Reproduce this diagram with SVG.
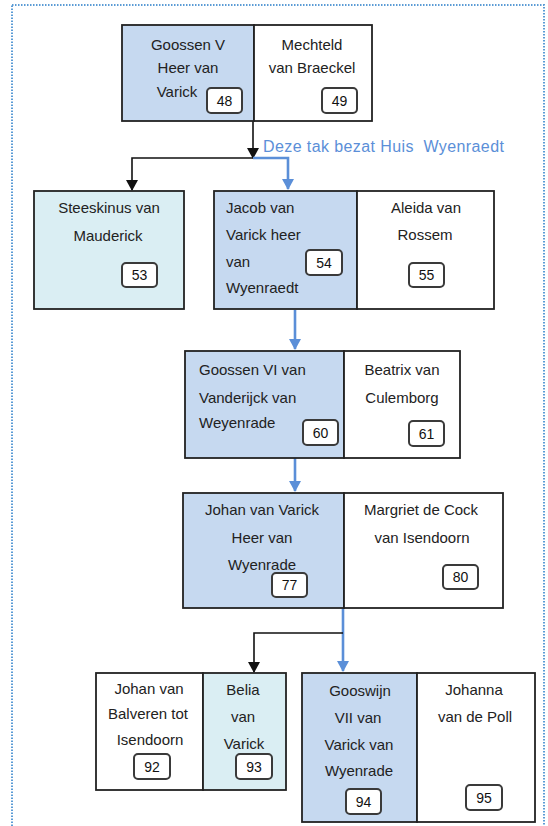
<svg xmlns="http://www.w3.org/2000/svg" width="548" height="826" viewBox="0 0 548 826">
<style>
.bx{stroke:#222;stroke-width:1.8}
.blue{fill:#C6D9F0}
.aqua{fill:#DAEEF3}
.white{fill:#fff}
.bd rect{fill:#fff;stroke:#3a3a3a;stroke-width:2}
.t{font-family:"Liberation Sans",Arial,sans-serif;font-size:15px;fill:#222}
.c{text-anchor:middle}
.n{font-family:"Liberation Sans",Arial,sans-serif;font-size:14px;fill:#111;text-anchor:middle}
.k{fill:none;stroke:#111;stroke-width:1.6}
.b{fill:none;stroke:#5B8FD8;stroke-width:2.6}
</style>
<defs>
<marker id="ab" markerWidth="12" markerHeight="12" refX="6" refY="10" orient="0" markerUnits="userSpaceOnUse" viewBox="0 0 12 12">
<path d="M0,0 L12,0 L6,11 Z" fill="#5B8FD8"/>
</marker>
<marker id="akd" markerWidth="12" markerHeight="12" refX="6" refY="10" orient="0" markerUnits="userSpaceOnUse" viewBox="0 0 12 12">
<path d="M0,0 L12,0 L6,11 Z" fill="#111"/>
</marker>
</defs>
<rect width="548" height="826" fill="#fff"/>
<rect x="12" y="5" width="532" height="840" fill="none" stroke="#5B9BD5" stroke-width="2" stroke-dasharray="1.5 1.5"/>

<g id="connectors">
<path class="k" d="M253,121 V158" marker-end="url(#akd)"/>
<path class="k" d="M253,158 H132 V190" marker-end="url(#akd)"/>
<path class="b" d="M253,158 H288 V189" marker-end="url(#ab)"/>
<text x="263" y="152" style="font-family:'Liberation Sans',Arial,sans-serif;font-size:16px;letter-spacing:0.4px;fill:#5B8FD8;white-space:pre">Deze tak bezat Huis  Wyenraedt</text>
<path class="b" d="M295,310 V349" marker-end="url(#ab)"/>
<path class="b" d="M295,458 V491" marker-end="url(#ab)"/>
<path class="b" d="M343,608 V671" marker-end="url(#ab)"/>
<path class="k" d="M343,633 H254 V672" marker-end="url(#akd)"/>
</g>

<g id="n48">
<rect class="bx blue" x="122" y="25" width="132" height="96"/>
<text class="t c" x="188" y="50">Goossen V</text>
<text class="t c" x="188" y="73">Heer van</text>
<text class="t c" x="177" y="97">Varick</text>
<g class="bd"><rect x="207" y="88" width="35" height="25" rx="4"/></g>
<text class="n" x="224.5" y="106">48</text>
</g>
<g id="n49">
<rect class="bx white" x="254" y="25" width="118" height="96"/>
<text class="t c" x="312" y="50">Mechteld</text>
<text class="t c" x="312" y="73">van Braeckel</text>
<g class="bd"><rect x="322" y="88" width="35" height="25" rx="4"/></g>
<text class="n" x="339.5" y="106">49</text>
</g>

<g id="n53">
<rect class="bx aqua" x="34" y="191" width="150" height="118"/>
<text class="t c" x="109" y="213">Steeskinus van</text>
<text class="t c" x="108" y="241">Mauderick</text>
<g class="bd"><rect x="122" y="263" width="35" height="24" rx="4"/></g>
<text class="n" x="139.5" y="280">53</text>
</g>

<g id="n54">
<rect class="bx blue" x="214" y="191" width="143" height="118"/>
<text class="t" x="226" y="213">Jacob van</text>
<text class="t" x="226" y="240">Varick heer</text>
<text class="t" x="226" y="267">van</text>
<text class="t" x="226" y="293">Wyenraedt</text>
<g class="bd"><rect x="306" y="250" width="36" height="25" rx="4"/></g>
<text class="n" x="324" y="268">54</text>
</g>
<g id="n55">
<rect class="bx white" x="357" y="191" width="137" height="118"/>
<text class="t c" x="426" y="213">Aleida van</text>
<text class="t c" x="425" y="240">Rossem</text>
<g class="bd"><rect x="409" y="263" width="35" height="24" rx="4"/></g>
<text class="n" x="426.5" y="280">55</text>
</g>

<g id="n60">
<rect class="bx blue" x="185" y="351" width="159" height="107"/>
<text class="t" x="199" y="375">Goossen VI van</text>
<text class="t" x="199" y="403">Vanderijck van</text>
<text class="t" x="199" y="428">Weyenrade</text>
<g class="bd"><rect x="303" y="420" width="35" height="25" rx="4"/></g>
<text class="n" x="320.5" y="438">60</text>
</g>
<g id="n61">
<rect class="bx white" x="344" y="351" width="116" height="107"/>
<text class="t c" x="402" y="375">Beatrix van</text>
<text class="t c" x="402" y="403">Culemborg</text>
<g class="bd"><rect x="409" y="421" width="35" height="25" rx="4"/></g>
<text class="n" x="426.5" y="439">61</text>
</g>

<g id="n77">
<rect class="bx blue" x="183" y="493" width="161" height="115"/>
<text class="t c" x="262" y="515">Johan van Varick</text>
<text class="t c" x="262" y="543">Heer van</text>
<text class="t c" x="262" y="570">Wyenrade</text>
<g class="bd"><rect x="272" y="573" width="35" height="24" rx="4"/></g>
<text class="n" x="289.5" y="590">77</text>
</g>
<g id="n80">
<rect class="bx white" x="344" y="493" width="159" height="115"/>
<text class="t c" x="421" y="515">Margriet de Cock</text>
<text class="t c" x="422" y="543">van Isendoorn</text>
<g class="bd"><rect x="443" y="565" width="35" height="24" rx="4"/></g>
<text class="n" x="460.5" y="582">80</text>
</g>

<g id="n92">
<rect class="bx white" x="96" y="673" width="107" height="117"/>
<text class="t c" x="149" y="694">Johan van</text>
<text class="t c" x="148" y="719">Balveren tot</text>
<text class="t c" x="150" y="745">Isendoorn</text>
<g class="bd"><rect x="134" y="754" width="36" height="25" rx="4"/></g>
<text class="n" x="152" y="772">92</text>
</g>
<g id="n93">
<rect class="bx aqua" x="203" y="673" width="83" height="117"/>
<text class="t c" x="243" y="695">Belia</text>
<text class="t c" x="243" y="722">van</text>
<text class="t c" x="244" y="749">Varick</text>
<g class="bd"><rect x="236" y="754" width="36" height="25" rx="4"/></g>
<text class="n" x="254" y="772">93</text>
</g>

<g id="n94">
<rect class="bx blue" x="302" y="673" width="115" height="149"/>
<text class="t c" x="360" y="696">Gooswijn</text>
<text class="t c" x="358" y="723">VII van</text>
<text class="t c" x="359" y="750">Varick van</text>
<text class="t c" x="359" y="776">Wyenrade</text>
<g class="bd"><rect x="346" y="789" width="35" height="25" rx="4"/></g>
<text class="n" x="363.5" y="807">94</text>
</g>
<g id="n95">
<rect class="bx white" x="417" y="673" width="118" height="149"/>
<text class="t c" x="474" y="695">Johanna</text>
<text class="t c" x="475" y="722">van de Poll</text>
<g class="bd"><rect x="466" y="785" width="36" height="25" rx="4"/></g>
<text class="n" x="484" y="803">95</text>
</g>
</svg>
